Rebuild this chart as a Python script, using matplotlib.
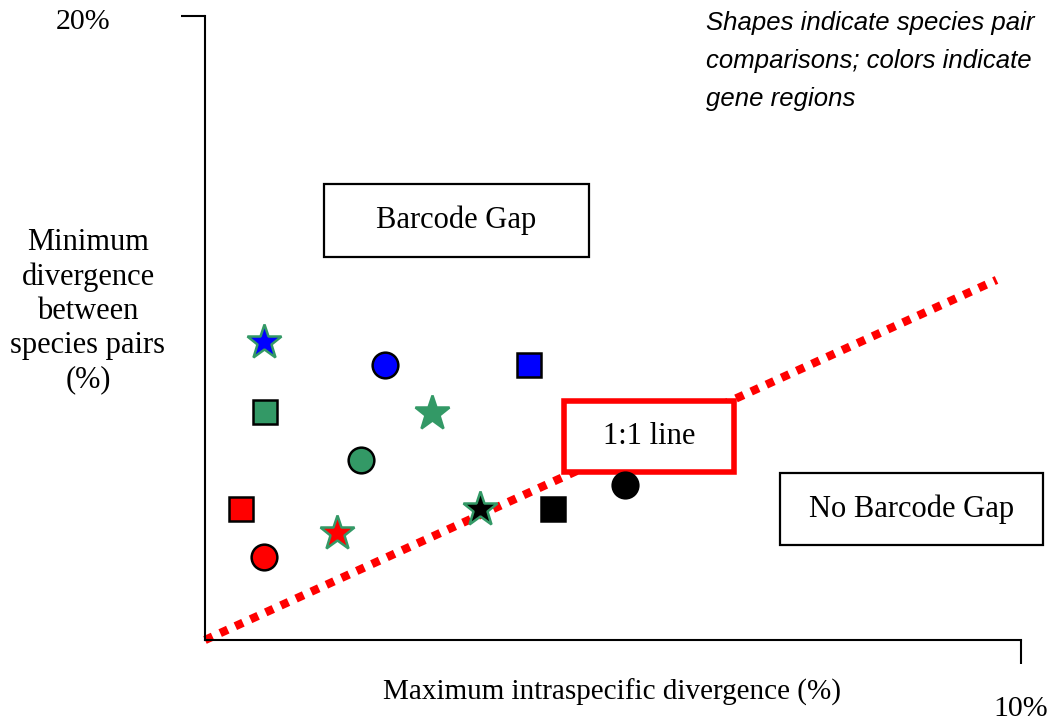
import matplotlib
matplotlib.use('Agg')
import matplotlib.pyplot as plt
from matplotlib.patches import Rectangle

# Species pair comparisons (shape) per gene region (colour)
shapes = ['o', 's', '*']  # circle, square, star

blue_x = [2.21, 3.97, 0.72]
blue_y = [8.81, 8.81, 9.55]
green_x = [1.91, 0.74, 2.78]
green_y = [5.77, 7.31, 7.28]
red_x = [0.72, 0.44, 1.62]
red_y = [2.66, 4.20, 3.43]
black_x = [5.15, 4.26, 3.37]
black_y = [4.97, 4.20, 4.20]

# 1:1 reference line
line_x = [0, 9.7]
line_y = [0, 11.54]

W, H = 1053, 723
fig = plt.figure(figsize=(W / 100, H / 100), dpi=100)


def fx(x):
    return x / W


def fy(y):
    return 1 - y / H


ax = fig.add_axes([fx(205), fy(640), (1021 - 205) / W, (640 - 16) / H])
ax.set_xlim(0, 10)
ax.set_ylim(0, 20)
ax.spines['top'].set_visible(False)
ax.spines['right'].set_visible(False)
ax.spines['left'].set_linewidth(1.5)
ax.spines['bottom'].set_linewidth(1.5)
ax.set_xticks([10])
ax.set_yticks([20])
ax.set_xticklabels([''])
ax.set_yticklabels([''])
ax.tick_params(direction='out', length=17, width=1.5)

serif = 'Liberation Serif'
fs = 22

# dotted 1:1 line
ax.plot(line_x, line_y, color='#FF0000', lw=6, linestyle=(0, (1, 1)),
        dash_capstyle='butt', clip_on=False, zorder=2)

# annotation boxes
boxes = [((324, 184, 589, 257), 'black', 1.6, 'Barcode Gap'),
         ((564, 401, 734, 472), '#FF0000', 4.0, '1:1 line'),
         ((780, 473, 1043, 545), 'black', 1.6, 'No Barcode Gap')]
for (x0, y0, x1, y1), ec, lw, label in boxes:
    r = Rectangle((fx(x0), fy(y1)), (x1 - x0) / W, (y1 - y0) / H,
                  transform=fig.transFigure, facecolor='white', edgecolor=ec,
                  lw=lw, zorder=3, clip_on=False)
    ax.add_patch(r)
    ax.text(fx((x0 + x1) / 2), fy((y0 + y1) / 2), label, transform=fig.transFigure,
            ha='center', va='center', fontsize=fs, family=serif, zorder=4)

star_edge = '#339966'
regions = [('#0000FF', blue_x, blue_y), ('#339966', green_x, green_y),
           ('#FF0000', red_x, red_y), ('black', black_x, black_y)]
for color, xs, ys in regions:
    for shape, x, y in zip(shapes, xs, ys):
        if shape == '*':
            ax.plot(x, y, marker='*', ms=26, mfc=color, mec=star_edge, mew=1.8,
                    linestyle='none', zorder=5, clip_on=False)
        elif shape == 'o':
            ax.plot(x, y, marker='o', ms=18.5, mfc=color, mec='black', mew=1.8,
                    linestyle='none', zorder=5, clip_on=False)
        else:
            ax.plot(x, y, marker='s', ms=17.5, mfc=color, mec='black', mew=1.8,
                    linestyle='none', zorder=5, clip_on=False)

# axis texts
fig.text(fx(83), fy(22), '20%', ha='center', va='center', fontsize=21.5, family=serif)
fig.text(fx(1021), fy(709), '10%', ha='center', va='center', fontsize=21.5, family=serif)
fig.text(fx(88), fy(311), 'Minimum\ndivergence\nbetween\nspecies pairs\n(%)',
         ha='center', va='center', fontsize=fs, family=serif, linespacing=1.24,
         multialignment='center')
fig.text(fx(612), fy(692), 'Maximum intraspecific divergence (%)',
         ha='center', va='center', fontsize=21, family=serif)

fig.text(fx(706), fy(61), 'Shapes indicate species pair\ncomparisons; colors indicate\ngene regions',
         ha='left', va='center', fontsize=18.5, style='italic',
         family=['Liberation Sans'], linespacing=1.74)

fig.savefig('out.png', dpi=100)
